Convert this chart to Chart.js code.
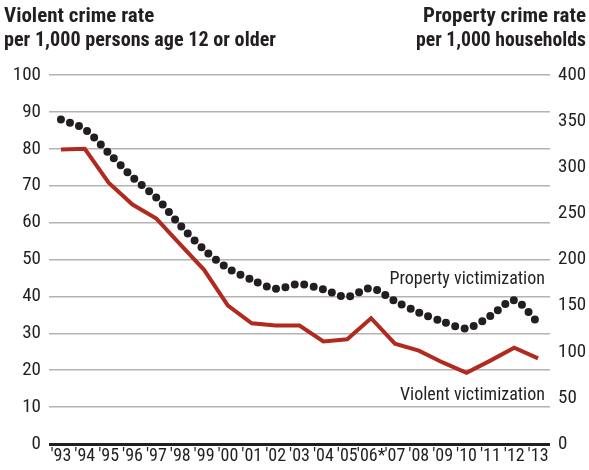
<!DOCTYPE html>
<html><head><meta charset="utf-8">
<script src="https://cdn.jsdelivr.net/npm/chart.js@4.4.1/dist/chart.umd.min.js"></script>
<style>
html,body{margin:0;padding:0;background:#fff;}
#wrap{position:relative;width:589px;height:470px;}
canvas{display:block;}
</style></head><body>
<div id="wrap"><canvas id="c" width="589" height="470"></canvas></div>
<script>
const years = ["'93","'94","'95","'96","'97","'98","'99","'00","'01","'02","'03","'04","'05","'06*","'07","'08","'09","'10","'11","'12","'13"];
const violent = [79.8,80.0,70.8,64.9,61.1,54.1,47.2,37.5,32.7,32.1,32.1,27.8,28.4,34.1,27.2,25.3,22.1,19.3,22.6,26.1,23.2];
const property = [351.8,341.2,315.5,289.3,267.0,237.1,210.6,190.4,178.1,168.2,173.4,167.5,159.5,169.0,154.8,142.6,132.6,125.4,138.7,155.8,131.4];
const leftTitle = ["Violent crime rate","per 1,000 persons age 12 or older"];
const rightTitle = ["Property crime rate","per 1,000 households"];
const propLabel = "Property victimization";
const violLabel = "Violent victimization";

const FONT = '"Roboto Condensed","DejaVu Sans Condensed",sans-serif';
const INK = '#231f20';

const textPlugin = {
  id:'texts',
  afterDraw(chart){
    const ctx = chart.ctx;
    ctx.save();
    ctx.fillStyle = INK;
    ctx.textBaseline = 'alphabetic';
    ctx.font = 'bold 21px ' + FONT;
    ctx.textAlign = 'left';
    ctx.fillText(leftTitle[0], 4, 22, 176);
    ctx.fillText(leftTitle[1], 4, 46, 272);
    ctx.textAlign = 'right';
    ctx.fillText(rightTitle[0], 586, 22, 170);
    ctx.fillText(rightTitle[1], 586, 46, 170);
    ctx.font = '18px ' + FONT;
    ctx.fillText(propLabel, 545, 284, 164);
    ctx.fillText(violLabel, 545, 400, 151);
    ctx.restore();
  }
};

new Chart(document.getElementById('c'), {
  type:'line',
  data:{
    labels: years,
    datasets:[
      {label:'Violent', data: violent, yAxisID:'yL', borderColor:'#b02a1f', borderWidth:4, pointRadius:0, tension:0, borderJoinStyle:'miter', borderCapStyle:'butt'},
      {label:'Property', data: property, yAxisID:'yR', borderColor:INK, borderWidth:8, borderDash:[0,9.6], borderCapStyle:'round', pointRadius:0, tension:0.3}
    ]
  },
  options:{
    responsive:false, animation:false,
    layout:{padding:{top:75,left:0,right:0,bottom:0}},
    plugins:{legend:{display:false}, tooltip:{enabled:false}},
    scales:{
      x:{
        offset:true,
        grid:{display:false, drawTicks:false},
        border:{display:false},
        ticks:{color:INK, font:{family:FONT,size:18}, padding:2, maxRotation:0, autoSkip:false},
        afterFit(s){ s.height = 26; }
      },
      yL:{
        position:'left', min:0, max:100,
        ticks:{stepSize:10, color:INK, font:{family:FONT,size:19}, padding:8},
        grid:{color:(c)=> c.tick && c.tick.value===0 ? INK : '#b3b3b3', lineWidth:(c)=> c.tick && c.tick.value===0 ? 3 : 1.5, drawTicks:false},
        border:{display:false},
        afterFit(s){ s.width = 49; }
      },
      yR:{
        position:'right', min:0, max:400,
        ticks:{stepSize:50, color:INK, font:{family:FONT,size:19}, padding:8},
        grid:{display:false, drawTicks:false},
        border:{display:false},
        afterFit(s){ s.width = 39; }
      }
    }
  },
  plugins:[textPlugin]
});
</script>
</body></html>
